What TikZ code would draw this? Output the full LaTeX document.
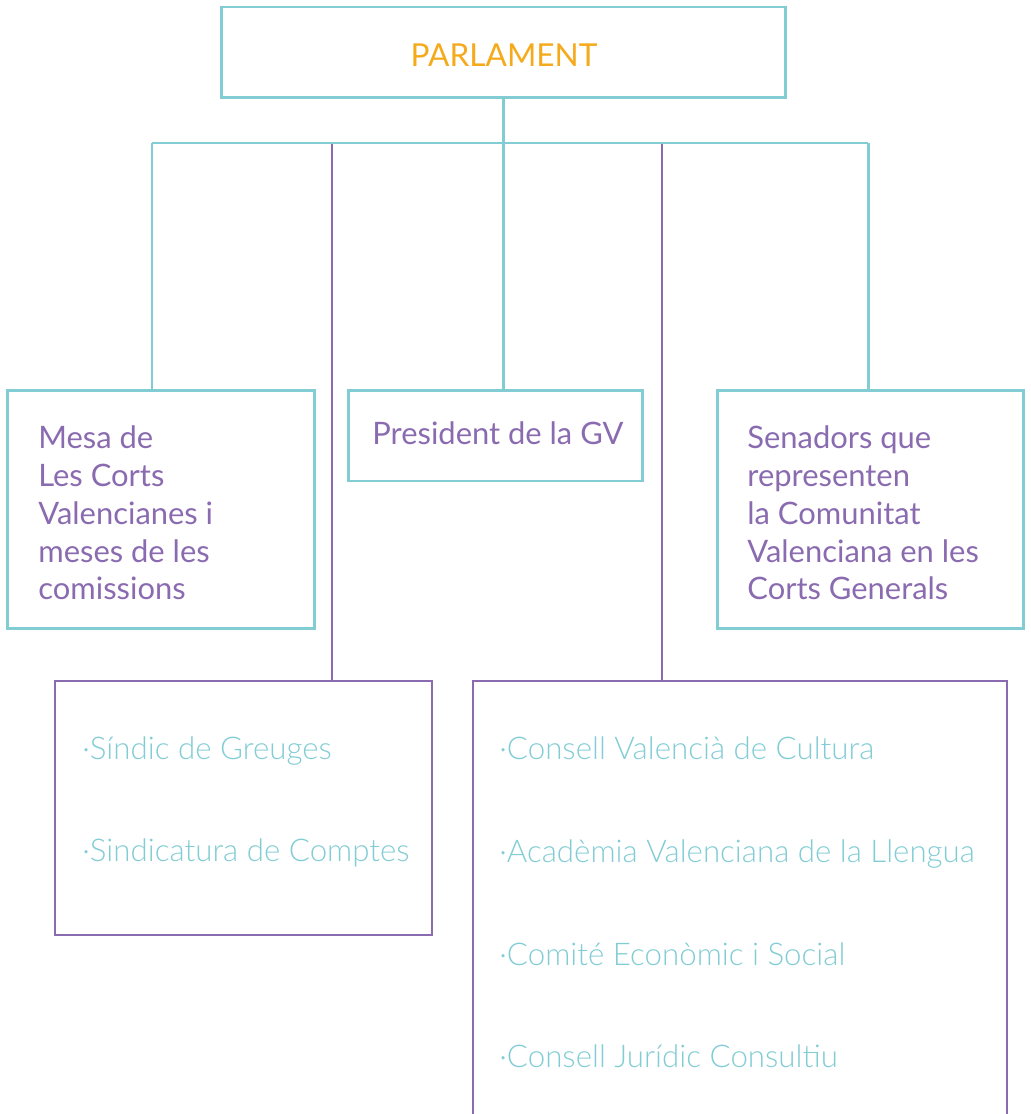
\documentclass[tikz,border=0pt]{standalone}
\usepackage{fontspec}
\setmainfont{Lato}
\newfontfamily\lightfont{Lato Light}
\usetikzlibrary{positioning}
\definecolor{orgteal}{HTML}{82CCD4}
\definecolor{orgpurple}{HTML}{8A6BB0}
\definecolor{orgorange}{HTML}{F5AA1C}

\begin{document}
\begin{tikzpicture}[
  x=0.02cm, y=-0.02cm,
  tealbox/.style={rectangle, draw=orgteal, line width=1.7pt, inner sep=0pt, outer sep=0pt},
  purplebox/.style={rectangle, draw=orgpurple, line width=0.8pt, inner sep=0pt, outer sep=0pt},
  tline/.style={draw=orgteal, line width=1.7pt},
  pline/.style={draw=orgpurple, line width=0.8pt},
  boxtext/.style={anchor=base west, inner sep=0pt, align=left, text=orgpurple, font=\fontsize{17.6}{21.6}\selectfont},
  itemtext/.style={anchor=base west, inner sep=0pt, text=orgteal, font=\lightfont\fontsize{17.8}{20}\selectfont}
]
\useasboundingbox (0,0) rectangle (1030,1114);
\clip (0,0) rectangle (1030,1114);

% boxes
\node[tealbox, minimum width=11.3cm, minimum height=1.82cm] (parl) at (503.5,52.5) {};
\node[tealbox, minimum width=6.16cm, minimum height=4.78cm] (mesa) at (161,509.5) {};
\node[tealbox, minimum width=5.9cm, minimum height=1.82cm] (pres) at (495.5,435.5) {};
\node[tealbox, minimum width=6.14cm, minimum height=4.78cm] (sen) at (870.5,509.5) {};
\node[purplebox, minimum width=7.54cm, minimum height=5.08cm] (sind) at (243.5,808) {};
\node[purplebox, minimum width=10.68cm, minimum height=9.2cm] (cons) at (740,911) {};

% texts (multi-line ones are placed by their last baseline)
\node[anchor=base, inner sep=0pt, text=orgorange, font=\fontsize{18}{20}\selectfont] (parltxt) at (504,67) {PARLAMENT};
\node[boxtext] (mesatxt) at ([xshift=0.62cm, yshift=-4.2cm]mesa.north west) {Mesa de\\Les Corts\\Valencianes i\\meses de les\\comissions};
\node[boxtext] (prestxt) at ([xshift=0.48cm, yshift=-1.08cm]pres.north west) {President de la GV};
\node[boxtext] (sentxt) at ([xshift=0.6cm, yshift=-4.2cm]sen.north west) {Senadors que\\representen\\la Comunitat\\Valenciana en les\\Corts Generals};

\node[itemtext] (sind1) at ([xshift=0.54cm, yshift=-1.56cm]sind.north west) {·Síndic de Greuges};
\node[itemtext, below=2.06cm of sind1.base west, anchor=base west] (sind2) {·Sindicatura de Comptes};

\node[itemtext] (cons1) at ([xshift=0.52cm, yshift=-1.56cm]cons.north west) {·Consell Valencià de Cultura};
\node[itemtext, below=2.06cm of cons1.base west, anchor=base west] (cons2) {·Acadèmia Valenciana de la Llengua};
\node[itemtext, below=2.06cm of cons2.base west, anchor=base west] (cons3) {·Comité Econòmic i Social};
\node[itemtext, below=2.06cm of cons3.base west, anchor=base west] (cons4) {·Consell Jurídic Consultiu};

% connectors
\coordinate (jl) at (152,143);
\coordinate (jr) at (868,143);
\coordinate (pl) at (332,143);
\coordinate (pr) at (662,143);
\draw[pline] (pl) -- (pl |- sind.north);
\draw[pline] (pr) -- (pr |- cons.north);
\draw[tline] (parl.south) -- (parl.south |- pres.north);
\draw[tline] (jl) -- (jr);
\draw[tline] (jl) -- (jl |- mesa.north);
\draw[tline] (jr) -- (jr |- sen.north);
\end{tikzpicture}
\end{document}
